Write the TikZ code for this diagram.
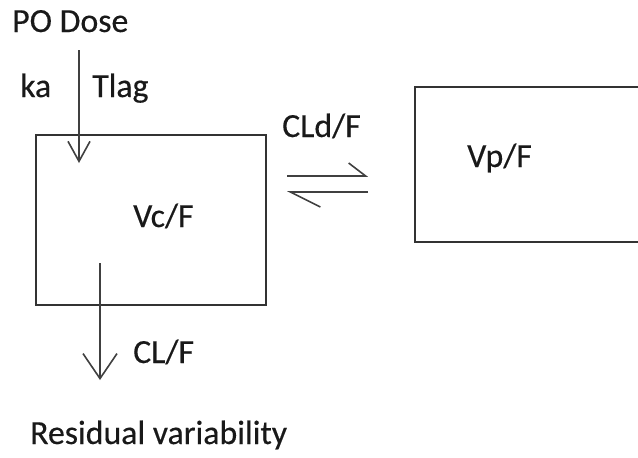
\documentclass[tikz,border=0pt]{standalone}
\usepackage{fontspec}
\setmainfont{Carlito}[FakeBold=0.35]
\usetikzlibrary{arrows.meta}
\tikzset{
  lbl/.style={anchor=base west, inner sep=0pt, text=black!90, font=\fontsize{33.8}{40}\selectfont},
  comp/.style={draw=black!80, line width=2pt, inner sep=0pt},
  flow/.style={draw=black!75, line width=1.6pt},
}
\begin{document}
\begin{tikzpicture}[x=1pt,y=-1pt]
\useasboundingbox (0,0) rectangle (638,458);
\fill[white] (0,0) rectangle (638,458);
% compartments
\node[comp, minimum width=230pt, minimum height=170pt] (central) at (151,220) {};
\node[comp, minimum width=240pt, minimum height=155pt] (periph) at (535,164.5) {};
% labels
\node[lbl] (dose) at (12,32) {PO Dose};
\node[lbl] (ka) at (20,97) {ka};
\node[lbl] (tlag) at (92,97) {Tlag};
\node[lbl] (vc) at (133,227) {Vc/F};
\node[lbl] (cld) at (282,137) {CLd/F};
\node[lbl] (vp) at (467,167) {Vp/F};
\node[lbl] (cl) at (133,363) {CL/F};
\node[lbl] (resid) at (30,444) {Residual variability};
% absorption
\coordinate (doseS) at (79,50);
\coordinate (doseE) at (79,163);
\draw[flow, -{Straight Barb[length=20pt,width=22pt,line width=1.6pt]}] (doseS) -- (doseE);
% elimination
\coordinate (elS) at (100,263);
\coordinate (elE) at (100,380);
\draw[flow, -{Straight Barb[length=25pt,width=34pt,line width=1.6pt]}] (elS) -- (elE);
% distribution equilibrium
\coordinate (eqA1) at (287,176);
\coordinate (eqB1) at (368,176);
\coordinate (eqA2) at (368,192);
\coordinate (eqB2) at (287,192);
\draw[flow, -{Straight Barb[left,length=17pt,width=26pt,line width=1.6pt]}] (eqA1) -- (eqB1);
\draw[flow, -{Straight Barb[left,length=30pt,width=30pt,line width=1.6pt]}] (eqA2) -- (eqB2);
\end{tikzpicture}
\end{document}
